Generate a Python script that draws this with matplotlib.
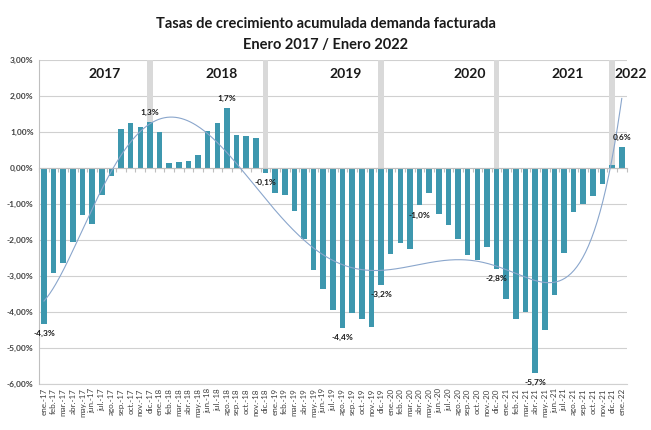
import numpy as np
import matplotlib
matplotlib.use("Agg")
import matplotlib.pyplot as plt

# monthly cumulative growth rate (%), ene-17 .. ene-22
meses = ["ene", "feb", "mar", "abr", "may", "jun", "jul", "ago", "sep", "oct", "nov", "dic"]
anios = ["17", "18", "19", "20", "21"]
etiquetas = [m + ".-" + a for a in anios for m in meses] + ["ene.-22"]

tasas = [
    -4.33, -2.91, -2.65, -2.05, -1.30, -1.55, -0.75, -0.22, 1.07, 1.26, 1.14, 1.27,
    0.99, 0.13, 0.17, 0.19, 0.37, 1.02, 1.25, 1.66, 0.93, 0.88, 0.82, -0.13,
    -0.70, -0.74, -1.20, -1.98, -2.83, -3.37, -3.95, -4.44, -4.02, -4.20, -4.42, -3.24,
    -2.40, -2.08, -2.26, -1.04, -0.70, -1.27, -1.57, -1.97, -2.42, -2.56, -2.19, -2.81,
    -3.64, -4.19, -4.01, -5.70, -4.50, -3.53, -2.37, -1.23, -1.00, -0.78, -0.44, 0.07,
    0.59,
]
# bars that carry a data label
con_etiqueta = [0, 11, 19, 23, 31, 35, 39, 47, 51, 60]
# december separators (gray columns)
separadores = [11, 23, 35, 47, 59]
anios_titulo = ["2017", "2018", "2019", "2020", "2021", "2022"]
pos_anios = [6.3, 18.4, 31.3, 44.2, 54.4, 60.9]

yticks = [3, 2, 1, 0, -1, -2, -3, -4, -5, -6]

plt.rcParams["font.family"] = ["Lato", "DejaVu Sans"]

fig = plt.figure(figsize=(6.51, 4.30), dpi=100)
ax = fig.add_axes([0.0602, 0.107, 0.9023, 0.7535])

x = np.arange(len(tasas))
y = np.array(tasas)

# gray december columns behind the data
ax.bar(separadores, [3.0] * len(separadores), width=0.6, color="#d9d9d9", zorder=1)
ax.bar(x, y, width=0.58, color="#3d97ae", zorder=2)

# polynomial trend (like excel's)
coef = np.polyfit(x + 1, y, 6)
xs = np.linspace(0, len(tasas) - 1, 400)
ax.plot(xs, np.polyval(coef, xs + 1), color="#8aa6cc", lw=0.8, zorder=3)

for i in con_etiqueta:
    v = tasas[i]
    txt = ("%.1f%%" % v).replace(".", ",")
    off = 7 if v > 0 else -7
    ax.annotate(txt, (i, v), xytext=(0, off), textcoords="offset points",
                ha="center", va="center", fontsize=6, fontweight="bold",
                color="#1a1a1a", zorder=4)

for a, p in zip(anios_titulo, pos_anios):
    ax.text(p, 2.62, a, ha="center", va="center", fontsize=10,
            fontweight="bold", color="#1a1a1a", zorder=4)

ax.set_xlim(-0.5, len(tasas) - 0.5)
ax.set_ylim(-6, 3)
ax.set_yticks(yticks)
ax.set_yticklabels([("%.2f%%" % t).replace(".", ",") for t in yticks],
                   fontsize=6, fontweight="bold", color="#404040")
ax.yaxis.grid(True, color="#d0d0d0", lw=0.8, zorder=0)
ax.set_axisbelow(True)
ax.tick_params(axis="y", length=0, pad=4)

for s in ["top", "right"]:
    ax.spines[s].set_visible(False)
ax.spines["left"].set_color("#bfbfbf")
ax.spines["bottom"].set_position(("data", 0))
ax.spines["bottom"].set_color("#bfbfbf")
ax.spines["bottom"].set_zorder(2.5)
ax.set_xticks(np.arange(-0.5, len(tasas), 1))
ax.tick_params(axis="x", length=3, color="#bfbfbf", labelbottom=False)

# category labels along the bottom
sec = ax.secondary_xaxis("bottom")
sec.set_xticks(x)
sec.set_xticklabels(etiquetas, rotation=90, fontsize=5.8, color="#404040")
sec.tick_params(length=0, pad=3)
sec.spines["bottom"].set_color("#d0d0d0")

fig.text(0.5, 0.945, "Tasas de crecimiento acumulada demanda facturada",
         ha="center", va="center", fontsize=10.5, fontweight="bold", color="#1a1a1a")
fig.text(0.5, 0.895, "Enero 2017 / Enero 2022",
         ha="center", va="center", fontsize=10.5, fontweight="bold", color="#1a1a1a")

fig.savefig("out.png", dpi=100)
